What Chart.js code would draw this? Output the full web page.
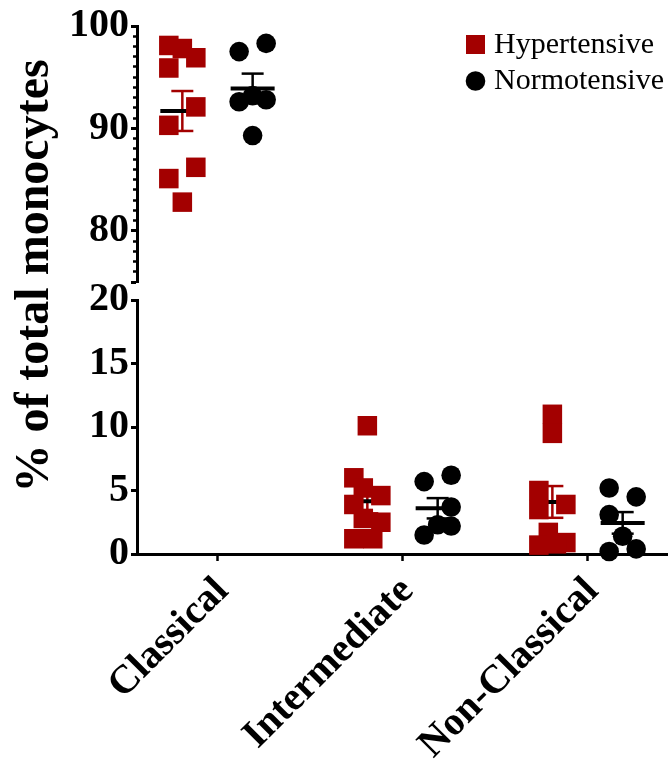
<!DOCTYPE html>
<html>
<head>
<meta charset="utf-8">
<script src="https://cdn.jsdelivr.net/npm/chart.js@4.4.1/dist/chart.umd.min.js"></script>
<style>
  html, body { margin: 0; padding: 0; background: #fff; }
  #wrap { width: 668px; height: 760px; }
</style>
</head>
<body>
<div id="wrap"><canvas id="myChart"></canvas></div>
<script>
const categories = ['Classical', 'Intermediate', 'Non-Classical'];
const seriesNames = ['Hypertensive', 'Normotensive'];
const yTitle = '% of total monocytes';

// single values per group
const hyperClassical = [98.1, 97.8, 96.9, 95.9, 92.1, 90.3, 86.2, 85.1, 82.8];
const hyperIntermediate = [10.1, 6.0, 5.2, 4.6, 3.9, 2.8, 2.5, 1.2, 1.2];
const hyperNonClassical = [11.0, 9.5, 5.0, 3.5, 3.9, 1.7, 0.7, 0.9, 0.8];
const normoClassical = [98.3, 97.5, 92.6, 92.8, 93.2, 89.3];
const normoIntermediate = [5.7, 6.2, 3.7, 2.3, 2.2, 1.5];
const normoNonClassical = [5.2, 4.5, 3.1, 1.4, 0.2, 0.4];

// column of each dot inside its group (-1 left, 0 middle, 1 right)
const hyperClassicalCol = [-1, 0, 1, -1, 1, -1, 1, -1, 0];
const hyperIntermediateCol = [0, -1, -0.3, 1, -1, -0.3, 1, -1, 0.4];
const hyperNonClassicalCol = [0, 0, -1, -1, 1, -0.3, -1, 1, 0.3];
const normoClassicalCol = [1, -1, -1, 1, 0, 0];
const normoIntermediateCol = [-1, 1, 1, 0, 1, -1];
const normoNonClassicalCol = [-1, 1, -1, 0, -1, 1];

// mean and SEM per category
const hyperMean = [91.7, 4.15, 4.1];
const hyperSem = [1.95, 0.95, 1.25];
const normoMean = [93.9, 3.6, 2.45];
const normoSem = [1.45, 0.8, 0.85];

const yTopTicks = [80, 90, 100];
const yBottomTicks = [0, 5, 10, 15, 20];

const RED = '#a30000';
const BLACK = '#000000';
const SERIF = "'Liberation Serif', 'Times New Roman', serif";
const groupOff = 0.19;
const spread = 0.073;

function dots(values, cols, cat, side) {
    return values.map((v, i) => ({ x: cat + side * groupOff + cols[i] * spread, y: v }));
}

function meanPts(means, cats, side) {
    return cats.map(c => ({ x: c + 1 + side * groupOff, y: means[c] }));
}

function capPts(means, sems, cats, side) {
    const out = [];
    cats.forEach(c => {
        out.push({ x: c + 1 + side * groupOff, y: means[c] + sems[c] });
        out.push({ x: c + 1 + side * groupOff, y: means[c] - sems[c] });
    });
    return out;
}

function stemPts(means, sems, cats, side) {
    const out = [];
    cats.forEach(c => {
        const x = c + 1 + side * groupOff;
        out.push({ x: x, y: means[c] - sems[c] });
        out.push({ x: x, y: means[c] + sems[c] });
        out.push({ x: x, y: null });
    });
    return out;
}

function pointSet(label, data, axis, color, style, radius) {
    return {
        label: label, data: data, yAxisID: axis, order: 0, clip: false,
        pointStyle: style, pointRadius: radius, pointHoverRadius: radius,
        backgroundColor: color, borderColor: color, borderWidth: 0
    };
}

function meanSet(data, axis) {
    return {
        data: data, yAxisID: axis, order: 1, clip: false,
        pointStyle: 'line', pointRadius: 22, borderColor: BLACK, borderWidth: 4
    };
}

function capSet(data, axis, color) {
    return {
        data: data, yAxisID: axis, order: 1, clip: false,
        pointStyle: 'line', pointRadius: 11, borderColor: color, borderWidth: 2.5
    };
}

function stemSet(data, axis, color) {
    return {
        data: data, yAxisID: axis, order: 1, clip: false, showLine: true, spanGaps: false,
        pointRadius: 0, borderColor: color, borderWidth: 2.5
    };
}

const datasets = [
    pointSet('Hypertensive', dots(hyperClassical, hyperClassicalCol, 1, -1), 'yTop', RED, 'rect', 13.8),
    pointSet('Hypertensive', dots(hyperIntermediate, hyperIntermediateCol, 2, -1)
        .concat(dots(hyperNonClassical, hyperNonClassicalCol, 3, -1)), 'yBottom', RED, 'rect', 13.8),
    pointSet('Normotensive', dots(normoClassical, normoClassicalCol, 1, 1), 'yTop', BLACK, 'circle', 9.8),
    pointSet('Normotensive', dots(normoIntermediate, normoIntermediateCol, 2, 1)
        .concat(dots(normoNonClassical, normoNonClassicalCol, 3, 1)), 'yBottom', BLACK, 'circle', 9.8),
    meanSet(meanPts(hyperMean, [0], -1), 'yTop'),
    meanSet(meanPts(hyperMean, [1, 2], -1), 'yBottom'),
    meanSet(meanPts(normoMean, [0], 1), 'yTop'),
    meanSet(meanPts(normoMean, [1, 2], 1), 'yBottom'),
    capSet(capPts(hyperMean, hyperSem, [0], -1), 'yTop', RED),
    capSet(capPts(hyperMean, hyperSem, [1, 2], -1), 'yBottom', RED),
    capSet(capPts(normoMean, normoSem, [0], 1), 'yTop', BLACK),
    capSet(capPts(normoMean, normoSem, [1, 2], 1), 'yBottom', BLACK),
    stemSet(stemPts(hyperMean, hyperSem, [0], -1), 'yTop', RED),
    stemSet(stemPts(hyperMean, hyperSem, [1, 2], -1), 'yBottom', RED),
    stemSet(stemPts(normoMean, normoSem, [0], 1), 'yTop', BLACK),
    stemSet(stemPts(normoMean, normoSem, [1, 2], 1), 'yBottom', BLACK)
];

// legend in the top right corner and the y title across both axis pieces
const extrasPlugin = {
    id: 'extras',
    afterDraw(chart) {
        const ctx = chart.ctx;
        ctx.save();
        ctx.fillStyle = BLACK;
        ctx.font = 'bold 48px ' + SERIF;
        ctx.textAlign = 'center';
        ctx.textBaseline = 'middle';
        ctx.translate(36, chart.scales.yTop.bottom - 6);
        ctx.rotate(-Math.PI / 2);
        ctx.fillText(yTitle, 0, 0);
        ctx.restore();

        ctx.save();
        ctx.font = '30px ' + SERIF;
        ctx.textBaseline = 'middle';
        ctx.textAlign = 'left';
        ctx.fillStyle = RED;
        ctx.fillRect(466, 35, 19, 19);
        ctx.fillStyle = BLACK;
        ctx.beginPath();
        ctx.arc(475.5, 81, 9.8, 0, Math.PI * 2);
        ctx.fill();
        ctx.fillText(seriesNames[0], 494, 45);
        ctx.fillText(seriesNames[1], 494, 81);
        ctx.restore();
    }
};

const tickFont = { family: SERIF, size: 40, weight: 'bold' };

function yAxis(extra) {
    return Object.assign({
        type: 'linear',
        position: 'left',
        stack: 'y',
        grid: { drawOnChartArea: false, tickLength: 6, tickWidth: 3, tickColor: BLACK },
        border: { color: BLACK, width: 3 },
        ticks: { color: BLACK, font: tickFont, padding: 2, autoSkip: false },
        afterFit: s => { s.width = 137; }
    }, extra);
}

function isMajorTop(c) {
    return c.tick && (yTopTicks.includes(c.tick.value) || c.tick.value === 75);
}

const ctx = document.getElementById('myChart').getContext('2d');
new Chart(ctx, {
    type: 'scatter',
    data: { datasets: datasets },
    plugins: [extrasPlugin],
    options: {
        responsive: true,
        maintainAspectRatio: false,
        animation: false,
        layout: { autoPadding: false, padding: { top: 26, right: 0, bottom: 0, left: 0 } },
        plugins: { legend: { display: false }, tooltip: { enabled: false } },
        scales: {
            x: {
                type: 'linear',
                position: 'bottom',
                min: 0.565,
                max: 3.435,
                afterBuildTicks: s => { s.ticks = categories.map((c, i) => ({ value: i + 1 })); },
                afterFit: s => { s.height = 206; s.paddingLeft = 0; s.paddingRight = 0; },
                grid: { drawOnChartArea: false, tickLength: 7, tickWidth: 2.5, tickColor: BLACK },
                border: { color: BLACK, width: 3 },
                ticks: {
                    color: BLACK, minRotation: 45, maxRotation: 45, padding: 7, labelOffset: 5,
                    font: { family: SERIF, size: 40, weight: 'bold' },
                    callback: v => categories[v - 1]
                }
            },
            // stacked pieces are placed bottom-first in this order
            yBottom: yAxis({
                min: 0, max: 20, stackWeight: 254,
                afterBuildTicks: s => { s.ticks = yBottomTicks.map(v => ({ value: v })); }
            }),
            yGap: yAxis({
                min: 0, max: 1, stackWeight: 18,
                grid: { display: false, drawTicks: false },
                border: { display: false },
                ticks: { display: false }
            }),
            yTop: yAxis({
                min: 75, max: 100, stackWeight: 256,
                afterBuildTicks: s => {
                    const t = [];
                    for (let v = 75; v <= 100; v++) t.push({ value: v });
                    s.ticks = t;
                },
                grid: {
                    drawOnChartArea: false, tickLength: 6, tickColor: BLACK,
                    tickWidth: c => isMajorTop(c) ? 3 : 2.5,
                    tickBorderDash: c => isMajorTop(c) ? [] : [0, 2, 4]
                },
                ticks: {
                    color: BLACK, font: tickFont, padding: 2, autoSkip: false,
                    callback: v => yTopTicks.includes(v) ? String(v) : ''
                }
            })
        }
    }
});
</script>
</body>
</html>
